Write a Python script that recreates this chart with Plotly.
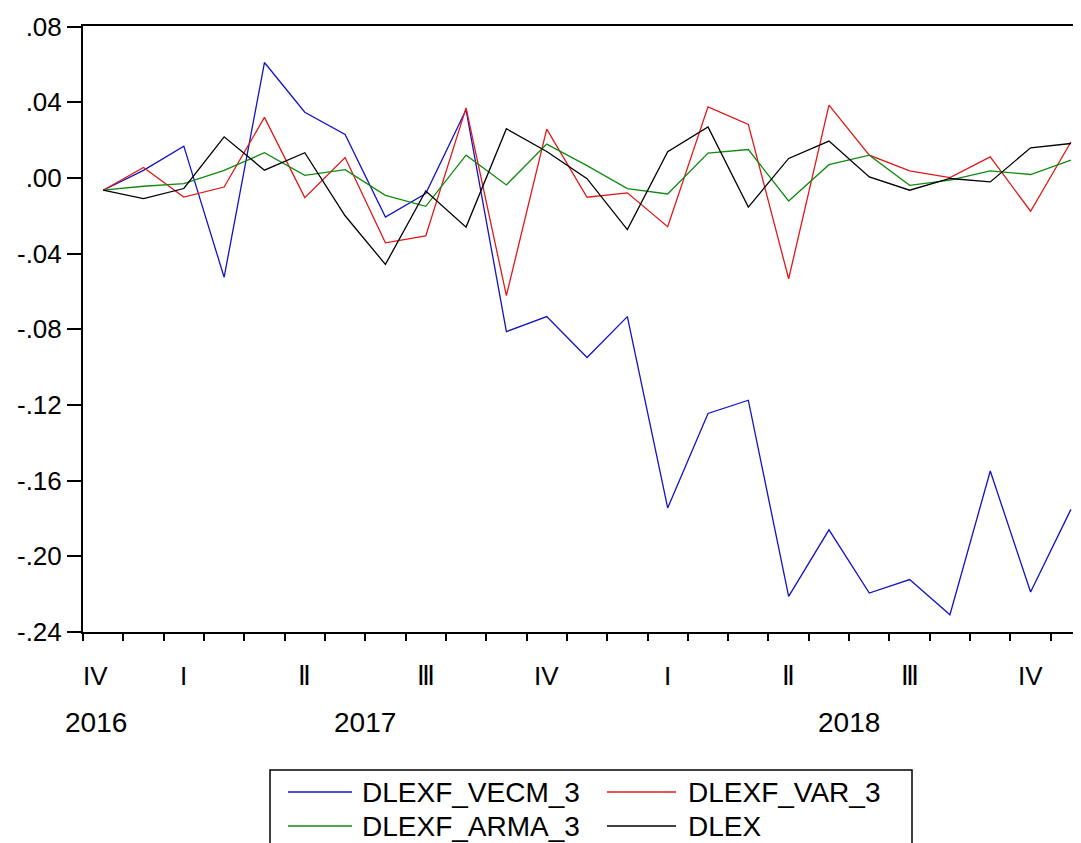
import plotly.graph_objects as go

# ---- data (monthly, 2016M12 .. 2018M12) ----
periods = ["2016M12", "2017M01", "2017M02", "2017M03", "2017M04", "2017M05", "2017M06",
           "2017M07", "2017M08", "2017M09", "2017M10", "2017M11", "2017M12",
           "2018M01", "2018M02", "2018M03", "2018M04", "2018M05", "2018M06",
           "2018M07", "2018M08", "2018M09", "2018M10", "2018M11", "2018M12"]

dlexf_vecm_3 = [-0.0065, 0.0040, 0.0168, -0.0525, 0.0610, 0.0347, 0.0230, -0.0207, -0.0083,
                0.0360, -0.0812, -0.0733, -0.0949, -0.0733, -0.1744, -0.1245, -0.1175,
                -0.2212, -0.1860, -0.2194, -0.2123, -0.2309, -0.1549, -0.2189, -0.1752]

dlexf_var_3 = [-0.0065, 0.0055, -0.0101, -0.0048, 0.0320, -0.0104, 0.0108, -0.0343, -0.0307,
               0.0370, -0.0622, 0.0258, -0.0102, -0.0079, -0.0258, 0.0376, 0.0283,
               -0.0533, 0.0385, 0.0120, 0.0037, 0.0002, 0.0111, -0.0176, 0.0190]

dlexf_arma_3 = [-0.0065, -0.0044, -0.0030, 0.0040, 0.0133, 0.0014, 0.0044, -0.0092, -0.0150,
                0.0120, -0.0037, 0.0179, 0.0065, -0.0056, -0.0085, 0.0131, 0.0150,
                -0.0122, 0.0070, 0.0120, -0.0039, -0.0012, 0.0037, 0.0018, 0.0094]

dlex = [-0.0065, -0.0109, -0.0056, 0.0217, 0.0041, 0.0133, -0.0200, -0.0457, -0.0069,
        -0.0260, 0.0260, 0.0140, -0.0004, -0.0273, 0.0138, 0.0270, -0.0154,
        0.0103, 0.0195, 0.0005, -0.0065, -0.0003, -0.0021, 0.0159, 0.0182]

series_names = ["DLEXF_VECM_3", "DLEXF_VAR_3", "DLEXF_ARMA_3", "DLEX"]

y_tick_values = [-0.24, -0.20, -0.16, -0.12, -0.08, -0.04, 0.00, 0.04, 0.08]
y_tick_labels = ["-.24", "-.20", "-.16", "-.12", "-.08", "-.04", ".00", ".04", ".08"]

quarter_labels = ["IV", "I", "Ⅱ", "Ⅲ", "IV", "I", "Ⅱ", "Ⅲ", "IV"]
year_labels = ["2016", "2017", "2018"]

# ---- derived positions ----
x = list(range(len(periods)))
month_bounds = [i - 0.5 for i in range(len(periods) + 1)]
quarter_bounds = [i - 0.5 for i, p in enumerate(periods) if p[-2:] in ("01", "04", "07", "10")]
# quarter label at the middle month of each quarter (first one clamped to axis start)
quarter_pos = [-0.2] + [i for i, p in enumerate(periods) if p[-2:] in ("02", "05", "08", "11")]
year_pos = [-0.17, 6.5, 18.5]

# The page body has an 8px default margin; size the figure so it fills the window.
OFF = 8
W, H = 1081 - OFF, 843 - OFF
SCR_LEFT, SCR_TOP, SCR_BOTTOM, SCR_RIGHT = 83, 26, 632, 1081
L, T = SCR_LEFT - OFF, SCR_TOP - OFF
B = H - (SCR_BOTTOM - OFF)
R = 0
plot_h = SCR_BOTTOM - SCR_TOP
plot_w = SCR_RIGHT - SCR_LEFT


def py(screen_y):
    return (SCR_BOTTOM - screen_y) / plot_h


def px(screen_x):
    return (screen_x - SCR_LEFT) / plot_w


FONT = "Liberation Sans, Arial, DejaVu Sans, sans-serif"

colors = ["#1212C4", "#E01818", "#108A10", "#000000"]
data = [dlexf_vecm_3, dlexf_var_3, dlexf_arma_3, dlex]

fig = go.Figure()
for name, ys, c in zip(series_names, data, colors):
    fig.add_trace(go.Scatter(x=x, y=ys, mode="lines", name=name,
                             line=dict(color=c, width=1.3), showlegend=False))

annotations = []
for lab, pos in zip(quarter_labels, quarter_pos):
    annotations.append(dict(x=pos, y=py(676), xref="x", yref="paper", text=lab,
                            showarrow=False, xanchor="center", yanchor="middle",
                            font=dict(family=FONT, size=26, color="#000")))
for lab, pos in zip(year_labels, year_pos):
    annotations.append(dict(x=pos, y=py(722), xref="x", yref="paper", text=lab,
                            showarrow=False, xanchor="center", yanchor="middle",
                            font=dict(family=FONT, size=28, color="#000")))

# ---- legend box (2 x 2 entries), drawn in paper coordinates ----
shapes = [dict(type="rect", xref="paper", yref="paper",
               x0=px(270), x1=px(912), y0=py(770), y1=py(870),
               line=dict(color="#000", width=1.5), fillcolor="rgba(0,0,0,0)")]
col_sample = [(288, 352), (607, 676)]
col_text = [360, 686]
row_y = [792, 826]
for k, (name, c) in enumerate(zip(series_names, colors)):
    col, row = k % 2, k // 2
    shapes.append(dict(type="line", xref="paper", yref="paper",
                       x0=px(col_sample[col][0]), x1=px(col_sample[col][1]),
                       y0=py(row_y[row]), y1=py(row_y[row]),
                       line=dict(color=c, width=1.3)))
    annotations.append(dict(x=px(col_text[col]), y=py(row_y[row]), xref="paper", yref="paper",
                            text=name, showarrow=False, xanchor="left", yanchor="middle",
                            font=dict(family=FONT, size=28, color="#000")))

fig.update_layout(
    width=W, height=H,
    margin=dict(l=L, r=R, t=T, b=B, autoexpand=False),
    paper_bgcolor="white", plot_bgcolor="white",
    font=dict(family=FONT, color="#000"),
    xaxis=dict(
        range=[-0.5, 24.25], showgrid=False, zeroline=False, automargin=False,
        showline=True, linecolor="#000", linewidth=2, mirror=True,
        tickmode="array", tickvals=quarter_bounds, ticktext=[""] * len(quarter_bounds),
        ticks="outside", ticklen=15, tickwidth=1.5, tickcolor="#000",
        showticklabels=False,
        minor=dict(tickmode="array", tickvals=month_bounds, ticks="outside",
                   ticklen=7, tickwidth=1.5, tickcolor="#000", showgrid=False),
    ),
    yaxis=dict(
        range=[-0.24, 0.0803], showgrid=False, zeroline=False, automargin=False,
        showline=True, linecolor="#000", linewidth=2,
        tickmode="array", tickvals=y_tick_values, ticktext=y_tick_labels,
        ticks="outside", ticklen=14, tickwidth=1.5, tickcolor="#000",
        tickfont=dict(family=FONT, size=26, color="#000"),
    ),
    annotations=annotations,
    shapes=shapes,
    showlegend=False,
)

fig.write_html("out.html")
